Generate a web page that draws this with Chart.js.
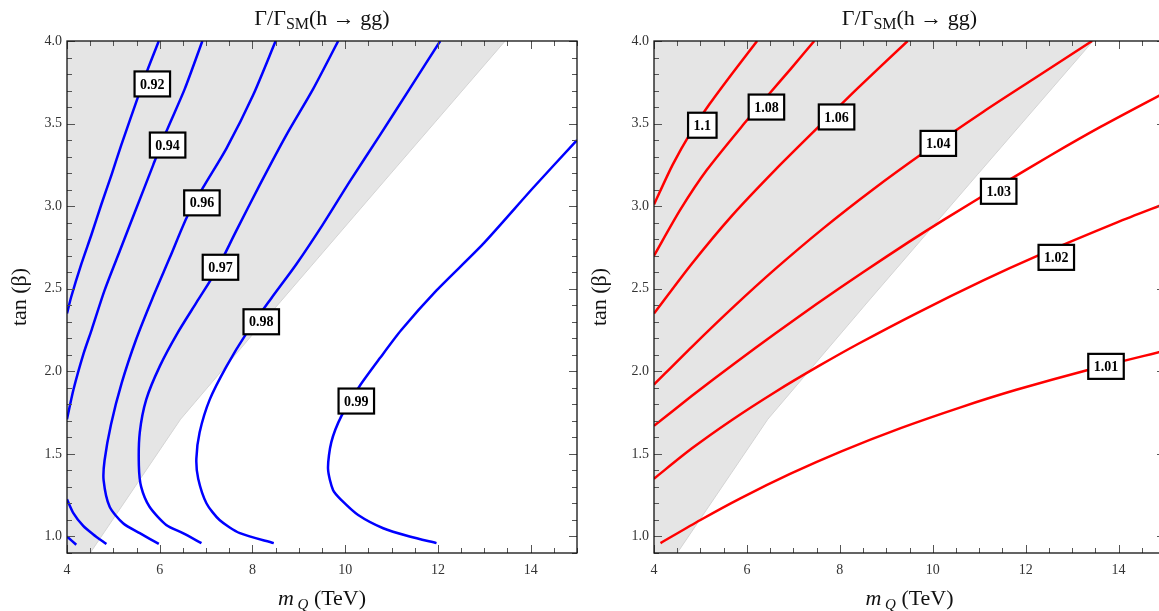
<!DOCTYPE html>
<html>
<head>
<meta charset="utf-8">
<script src="https://cdn.jsdelivr.net/npm/chart.js@4.4.0/dist/chart.umd.min.js"></script>
<style>
  html, body { margin: 0; padding: 0; background: #fff; overflow: hidden; }
  #wrap { position: relative; width: 1159px; height: 611px; overflow: hidden; }
  #left { position: absolute; left: 0; top: 0; }
  #right { position: absolute; left: 580px; top: 0; }
</style>
</head>
<body>
<div id="wrap">
  <canvas id="left" width="580" height="611"></canvas>
  <canvas id="right" width="600" height="611"></canvas>
</div>
<script>
// values: x = m_Q (TeV), y = tan(beta)
const xTickLabels = [4, 6, 8, 10, 12, 14];
const yTickLabels = [1.0, 1.5, 2.0, 2.5, 3.0, 3.5, 4.0];

// edge of the grey region (grey is left/above of it)
const shadeEdge = [[4.0, 0.9], [4.5, 0.9], [6.45, 1.71], [8.6, 2.42], [10.96, 3.19], [13.45, 4.0]];

// left panel, blue contours
const c092 = [[5.98, 4.0], [5.75, 3.835], [5.53, 3.66], [5.17, 3.37], [4.96, 3.19], [4.74, 3.01], [4.53, 2.83], [4.31, 2.65], [4.09, 2.45], [4.0, 2.35]];
const c092low = [[4.0, 1.0], [4.2, 0.95]];
const c094 = [[6.92, 4.0], [6.54, 3.71], [6.14, 3.45], [5.86, 3.25], [5.50, 2.99], [5.14, 2.73], [4.81, 2.49], [4.53, 2.25], [4.36, 2.11], [4.14, 1.89], [4.0, 1.71]];
const c094low = [[4.0, 1.225], [4.13, 1.145], [4.35, 1.064], [4.56, 1.014], [4.85, 0.954]];
const c096 = [[8.50, 4.0], [8.01, 3.67], [7.44, 3.35], [6.93, 3.11], [6.58, 2.93], [6.22, 2.69], [5.84, 2.44], [5.50, 2.20], [5.18, 1.93], [4.95, 1.68], [4.81, 1.46], [4.79, 1.34], [4.92, 1.18], [5.21, 1.08], [5.57, 1.02], [5.98, 0.955]];
const c097 = [[9.85, 4.0], [9.31, 3.71], [8.73, 3.43], [8.16, 3.13], [7.65, 2.85], [7.22, 2.61], [6.80, 2.42], [6.38, 2.23], [6.0, 2.03], [5.71, 1.83], [5.57, 1.63], [5.55, 1.43], [5.60, 1.30], [5.78, 1.18], [6.14, 1.07], [6.50, 1.02], [6.90, 0.96]];
const c098 = [[12.05, 4.0], [11.39, 3.71], [10.75, 3.43], [10.10, 3.15], [9.52, 2.89], [8.95, 2.65], [8.40, 2.44], [7.87, 2.23], [7.44, 2.03], [7.08, 1.83], [6.86, 1.63], [6.79, 1.47], [6.83, 1.35], [7.01, 1.20], [7.29, 1.10], [7.73, 1.02], [8.46, 0.96]];
const c099 = [[15.0, 3.40], [14.05, 3.11], [12.97, 2.77], [11.97, 2.49], [11.21, 2.25], [10.75, 2.08], [10.31, 1.91], [9.92, 1.73], [9.70, 1.57], [9.63, 1.41], [9.74, 1.28], [9.92, 1.22], [10.28, 1.13], [10.82, 1.05], [11.39, 1.0], [11.97, 0.96]];

const leftLabels = ['0.92', '0.94', '0.96', '0.97', '0.98', '0.99'];
const leftLabelAt = [[5.84, 3.74], [6.17, 3.37], [6.91, 3.02], [7.31, 2.63], [8.19, 2.30], [10.24, 1.82]];

// right panel, red contours
const c110 = [[4.0, 3.01], [4.4, 3.25], [4.8, 3.45], [5.2, 3.62], [5.7, 3.81], [6.22, 4.0]];
const c108 = [[4.0, 2.70], [4.57, 2.98], [5.14, 3.22], [6.0, 3.52], [6.51, 3.69], [6.94, 3.83], [7.45, 4.0]];
const c106 = [[4.0, 2.35], [4.81, 2.65], [5.67, 2.94], [6.61, 3.22], [7.54, 3.48], [8.37, 3.71], [9.46, 4.0]];
const c104 = [[4.0, 1.92], [4.81, 2.147], [5.7, 2.387], [6.6, 2.617], [7.65, 2.867], [8.7, 3.098], [9.8, 3.323], [11.09, 3.572], [12.17, 3.77], [13.43, 4.0]];
const c103 = [[4.0, 1.67], [4.81, 1.85], [5.74, 2.049], [6.61, 2.229], [7.5, 2.407], [8.5, 2.60], [9.48, 2.782], [10.27, 2.923], [11.46, 3.127], [12.54, 3.308], [13.62, 3.481], [15.0, 3.688]];
const c102 = [[4.0, 1.35], [4.81, 1.532], [5.67, 1.704], [6.61, 1.875], [7.54, 2.031], [8.4, 2.167], [9.66, 2.353], [11.10, 2.552], [12.25, 2.699], [13.97, 2.902], [15.0, 3.015]];
const c101 = [[4.14, 0.96], [5.0, 1.10], [5.86, 1.231], [6.94, 1.38], [8.02, 1.514], [9.31, 1.656], [10.6, 1.782], [11.8, 1.888], [13.4, 2.013], [15.0, 2.125]];

const rightLabels = ['1.1', '1.08', '1.06', '1.04', '1.03', '1.02', '1.01'];
const rightLabelAt = [[5.04, 3.49], [6.42, 3.60], [7.93, 3.54], [10.12, 3.38], [11.42, 3.09], [12.66, 2.69], [13.73, 2.03]];

const serif = '"Liberation Serif", "Times New Roman", serif';

function pts(arr) {
    return arr.map(p => ({ x: p[0], y: p[1] }));
}

// draw a row of text pieces [text, font, dy] centred on cx
function drawPieces(ctx, pieces, cx, y) {
    let total = 0;
    pieces.forEach(p => { ctx.font = p[1]; total += ctx.measureText(p[0]).width; });
    let x = cx - total / 2;
    pieces.forEach(p => {
        ctx.font = p[1];
        ctx.fillText(p[0], x, y + p[2]);
        x += ctx.measureText(p[0]).width;
    });
}

const decor = {
    id: 'decor',
    afterDatasetsDraw(chart, args, opts) {
        const ctx = chart.ctx;
        const xs = chart.scales.x, ys = chart.scales.y;
        ctx.save();
        ctx.font = 'bold 14px ' + serif;
        ctx.textAlign = 'center';
        ctx.textBaseline = 'middle';
        opts.texts.forEach((t, i) => {
            const px = xs.getPixelForValue(opts.at[i][0]);
            const py = ys.getPixelForValue(opts.at[i][1]);
            const w = ctx.measureText(t).width + 11, h = 25;
            ctx.fillStyle = '#fff';
            ctx.fillRect(px - w / 2, py - h / 2, w, h);
            ctx.lineWidth = 2.2;
            ctx.strokeStyle = '#000';
            ctx.strokeRect(px - w / 2, py - h / 2, w, h);
            ctx.fillStyle = '#000';
            ctx.fillText(t, px, py + 1);
        });
        ctx.restore();
    },
    afterDraw(chart) {
        const ctx = chart.ctx, a = chart.chartArea;
        const xs = chart.scales.x, ys = chart.scales.y;
        ctx.save();
        // inward ticks on all four sides
        ctx.strokeStyle = '#555';
        ctx.lineWidth = 1;
        ctx.beginPath();
        for (let k = 8; k <= 30; k++) {
            const px = Math.round(xs.getPixelForValue(k / 2)) + 0.5;
            const len = (k % 4 === 0) ? 8 : 5;
            ctx.moveTo(px, a.bottom); ctx.lineTo(px, a.bottom - len);
            ctx.moveTo(px, a.top); ctx.lineTo(px, a.top + len);
        }
        for (let k = 9; k <= 40; k++) {
            const py = Math.round(ys.getPixelForValue(k / 10)) + 0.5;
            const len = (k % 5 === 0) ? 8 : 5;
            ctx.moveTo(a.left, py); ctx.lineTo(a.left + len, py);
            ctx.moveTo(a.right, py); ctx.lineTo(a.right - len, py);
        }
        ctx.stroke();
        // frame
        ctx.strokeStyle = '#111';
        ctx.lineWidth = 1.3;
        ctx.strokeRect(a.left, a.top, a.right - a.left, a.bottom - a.top);

        // titles
        ctx.fillStyle = '#111';
        ctx.textBaseline = 'alphabetic';
        ctx.textAlign = 'left';
        const cx = (a.left + a.right) / 2;
        drawPieces(ctx, [
            ['\u0393/\u0393', '22px ' + serif, 0],
            ['SM', '16px ' + serif, 4],
            ['(h \u2192 gg)', '22px ' + serif, 0]
        ], cx, 25);
        drawPieces(ctx, [
            ['m', 'italic 22px ' + serif, 0],
            [' Q', 'italic 15px ' + serif, 4],
            [' (TeV)', '22px ' + serif, 0]
        ], cx, 605);
        ctx.translate(26, (a.top + a.bottom) / 2);
        ctx.rotate(-Math.PI / 2);
        ctx.textAlign = 'center';
        ctx.font = '22px ' + serif;
        ctx.fillText('tan (\u03b2)', 0, 0);
        ctx.restore();
    }
};

function makePanel(id, curves, color, texts, at, padLeft, padRight) {
    const datasets = [{
        data: pts(shadeEdge),
        fill: 'end',
        backgroundColor: '#e5e5e5',
        borderColor: '#d4d4d4',
        borderWidth: 1,
        order: 2
    }];
    curves.forEach(c => datasets.push({
        data: pts(c),
        fill: false,
        borderColor: color,
        borderWidth: 2.5,
        tension: 0.25,
        order: 1
    }));
    const tickFont = { family: serif, size: 14 };
    return new Chart(document.getElementById(id), {
        type: 'line',
        data: { datasets: datasets },
        options: {
            responsive: false,
            animation: false,
            devicePixelRatio: 1,
            elements: { point: { radius: 0 } },
            layout: { padding: { left: padLeft, right: padRight, top: 41, bottom: 0 } },
            plugins: {
                legend: { display: false },
                tooltip: { enabled: false },
                decor: { texts: texts, at: at }
            },
            scales: {
                x: {
                    type: 'linear', min: 4, max: 15,
                    grid: { display: false, drawTicks: false },
                    border: { display: false },
                    afterBuildTicks: s => { s.ticks = xTickLabels.map(v => ({ value: v })); },
                    afterFit: s => { s.height = 58; },
                    ticks: { padding: 9, color: '#333', font: tickFont, autoSkip: false, maxRotation: 0,
                             callback: v => String(v) }
                },
                y: {
                    type: 'linear', min: 0.9, max: 4.0,
                    grid: { display: false, drawTicks: false },
                    border: { display: false },
                    afterBuildTicks: s => { s.ticks = yTickLabels.map(v => ({ value: v })); },
                    afterFit: s => { s.width = 67; },
                    ticks: { padding: 5, color: '#333', font: tickFont, autoSkip: false,
                             callback: v => Number(v).toFixed(1) }
                }
            }
        },
        plugins: [decor]
    });
}

makePanel('left', [c092, c092low, c094, c094low, c096, c097, c098, c099], '#0000ff',
          leftLabels, leftLabelAt, 0, 3);
makePanel('right', [c110, c108, c106, c104, c103, c102, c101], '#ff0000',
          rightLabels, rightLabelAt, 7, 15);
</script>
</body>
</html>
